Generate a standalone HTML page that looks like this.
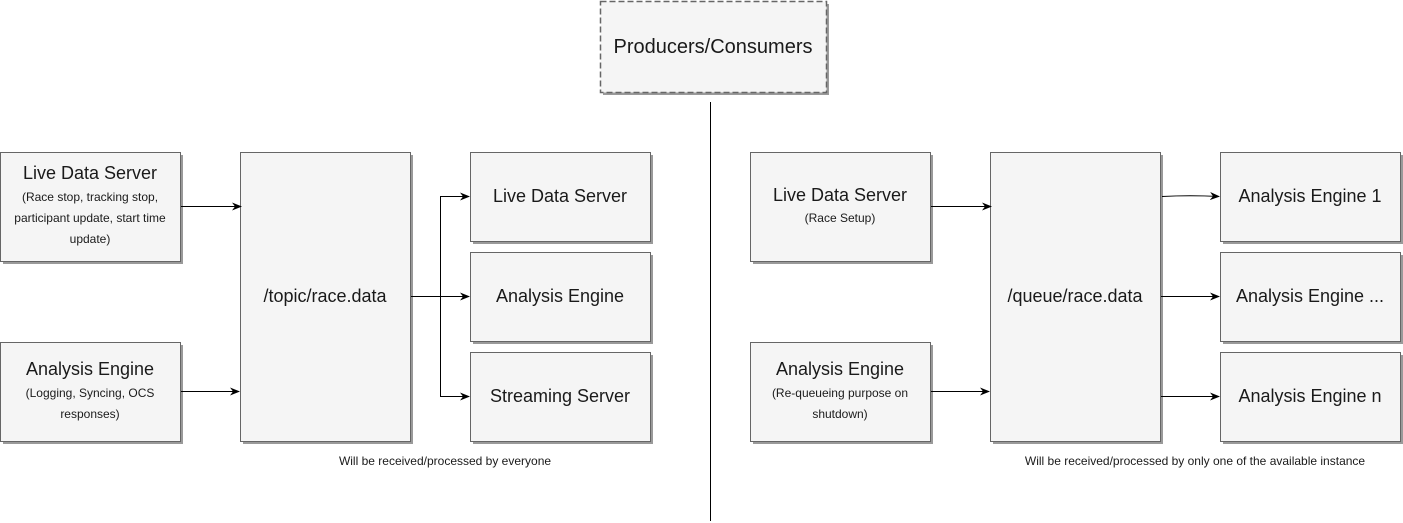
<!DOCTYPE html>
<html><head><style>body{margin:0;background:#fff}svg{display:block}text{font-family:"Liberation Sans",Arial,sans-serif;fill:#1a1a1a}</style></head><body>
<svg width="1403" height="523" viewBox="0 0 1403 523" xmlns="http://www.w3.org/2000/svg">
<defs>
<marker id="a" markerWidth="10" markerHeight="8" refX="9" refY="4" orient="auto" markerUnits="userSpaceOnUse"><path d="M0,0 L10,4 L0,8 L3,4 Z" fill="#000"/></marker>
</defs>
<g fill="#9a9a9a">
<rect x="603" y="4" width="226" height="91"/>
<rect x="3" y="155" width="180" height="109"/><rect x="3" y="345" width="180" height="99"/>
<rect x="243" y="155" width="170" height="289"/>
<rect x="473" y="155" width="180" height="89"/><rect x="473" y="255" width="180" height="89"/><rect x="473" y="355" width="180" height="89"/>
<rect x="753" y="155" width="180" height="109"/><rect x="753" y="345" width="180" height="99"/>
<rect x="993" y="155" width="170" height="289"/>
<rect x="1223" y="155" width="180" height="89"/><rect x="1223" y="255" width="180" height="89"/><rect x="1223" y="355" width="180" height="89"/>
</g>
<g fill="#f5f5f5" stroke="#666" stroke-width="1">
<rect x="600.5" y="1.5" width="226" height="91" stroke-dasharray="6 3" stroke-width="1.5"/>
<rect x="0.5" y="152.5" width="180" height="109"/><rect x="0.5" y="342.5" width="180" height="99"/>
<rect x="240.5" y="152.5" width="170" height="289"/>
<rect x="470.5" y="152.5" width="180" height="89"/><rect x="470.5" y="252.5" width="180" height="89"/><rect x="470.5" y="352.5" width="180" height="89"/>
<rect x="750.5" y="152.5" width="180" height="109"/><rect x="750.5" y="342.5" width="180" height="99"/>
<rect x="990.5" y="152.5" width="170" height="289"/>
<rect x="1220.5" y="152.5" width="180" height="89"/><rect x="1220.5" y="252.5" width="180" height="89"/><rect x="1220.5" y="352.5" width="180" height="89"/>
</g>
<line x1="710.5" y1="102" x2="710.5" y2="521" stroke="#000"/>
<g stroke="#000" fill="none" marker-end="url(#a)">
<path d="M181,206.5 H241"/><path d="M181,391.5 H239"/>
<path d="M411,296.5 H469"/><path d="M440.5,296 V196.5 H469"/><path d="M440.5,296 V396.5 H469"/>
<path d="M931,206.5 H991"/><path d="M931,391.5 H989"/>
<path d="M1162,196.5 Q1190,195 1219,196.5"/><path d="M1161,296.5 H1219"/><path d="M1161,396.5 H1219"/>
</g>
<g text-anchor="middle">
<text x="713" y="53" font-size="20">Producers/Consumers</text>
<text x="90" y="179" font-size="18">Live Data Server</text>
<text x="90" y="201" font-size="12">(Race stop, tracking stop,</text>
<text x="90" y="222" font-size="12">participant update, start time</text>
<text x="90" y="243" font-size="12">update)</text>
<text x="90" y="375" font-size="18">Analysis Engine</text>
<text x="90" y="397" font-size="12">(Logging, Syncing, OCS</text>
<text x="90" y="418" font-size="12">responses)</text>
<text x="325" y="302" font-size="18">/topic/race.data</text>
<text x="560" y="202" font-size="18">Live Data Server</text>
<text x="560" y="302" font-size="18">Analysis Engine</text>
<text x="560" y="402" font-size="18">Streaming Server</text>
<text x="445" y="465" font-size="12">Will be received/processed by everyone</text>
<text x="840" y="201" font-size="18">Live Data Server</text>
<text x="840" y="222" font-size="12">(Race Setup)</text>
<text x="840" y="375" font-size="18">Analysis Engine</text>
<text x="840" y="397" font-size="12">(Re-queueing purpose on</text>
<text x="840" y="418" font-size="12">shutdown)</text>
<text x="1075" y="302" font-size="18">/queue/race.data</text>
<text x="1310" y="202" font-size="18">Analysis Engine 1</text>
<text x="1310" y="302" font-size="18">Analysis Engine ...</text>
<text x="1310" y="402" font-size="18">Analysis Engine n</text>
<text x="1195" y="465" font-size="12">Will be received/processed by only one of the available instance</text>
</g>
</svg>
</body></html>
